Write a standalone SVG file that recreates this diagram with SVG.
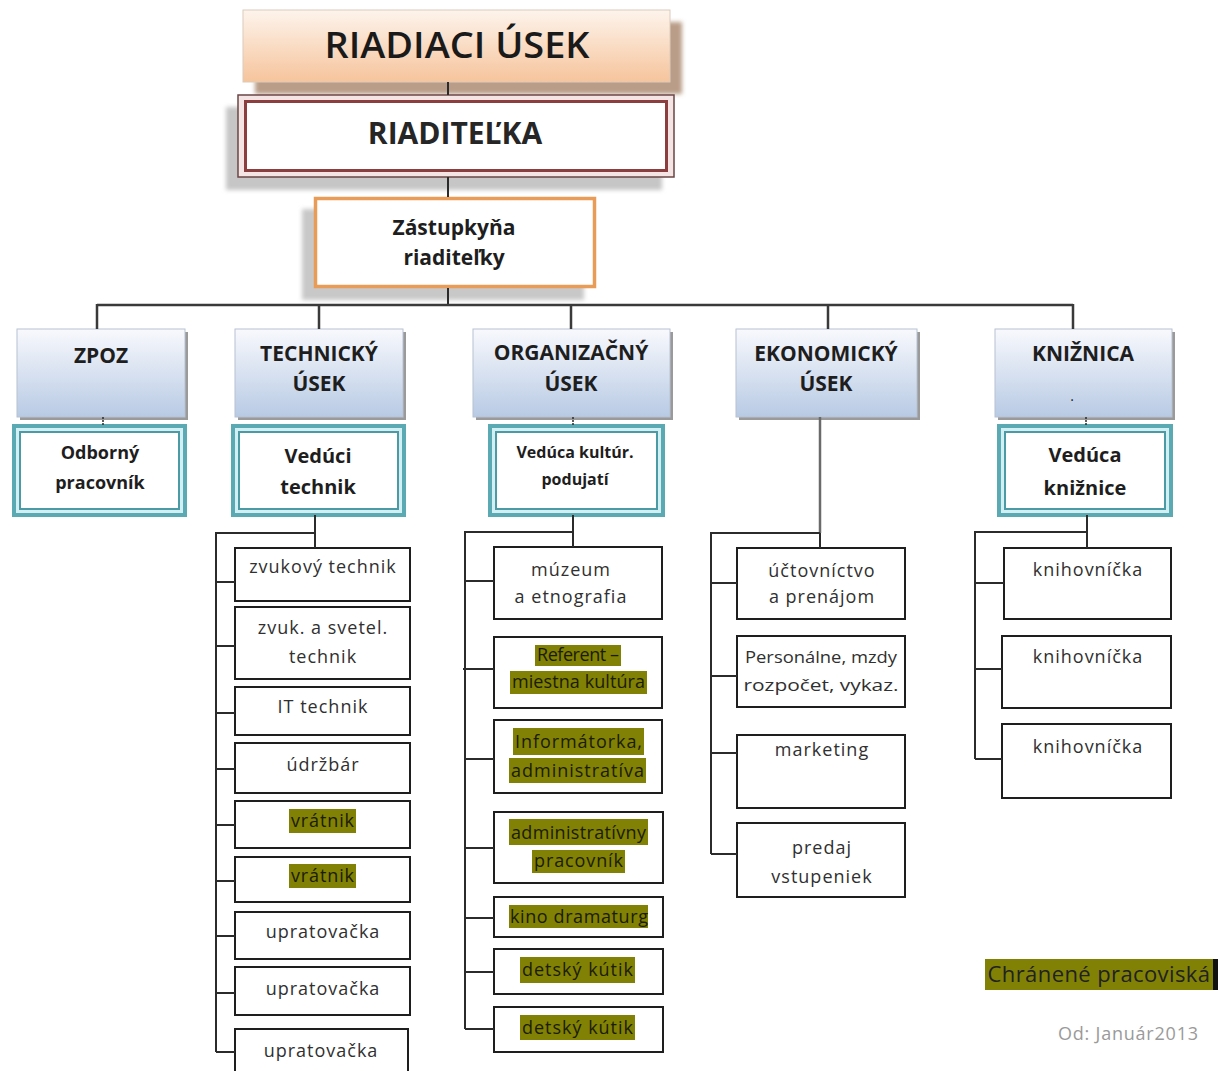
<svg xmlns="http://www.w3.org/2000/svg" width="1218" height="1071" viewBox="0 0 1218 1071">
<defs>
<linearGradient id="gPeach" x1="0" y1="0" x2="0" y2="1">
<stop offset="0" stop-color="#fdf4ec"/>
<stop offset="1" stop-color="#f6c49c"/>
</linearGradient>
<linearGradient id="gBlue" x1="0" y1="0" x2="0" y2="1">
<stop offset="0" stop-color="#f8f9fd"/>
<stop offset="1" stop-color="#b8cae4"/>
</linearGradient>
<filter id="blur" x="-10%" y="-10%" width="120%" height="120%">
<feGaussianBlur stdDeviation="2"/>
</filter>
</defs>
<style>
text{font-family:"Open Sans","Noto Sans","DejaVu Sans",sans-serif;text-anchor:middle;fill:#262626}
.title{font-size:36px;font-weight:600;fill:#1a1a1a}
.boss{font-size:30px;font-weight:700}
.dep{font-size:21px;font-weight:700;fill:#1e1e1e}
.sub{font-size:19px;font-weight:700;fill:#1e1e1e}
.leaf{font-size:18px;letter-spacing:1px;fill:#303030}
.hlt{font-size:18px;letter-spacing:0;fill:#1c1c00}
.hl{fill:#818106}
.leafbox{fill:#fff;stroke:#1e1e1e;stroke-width:2}
.depbox{fill:url(#gBlue);stroke:#b7c2d2;stroke-width:1}
.depsh{fill:#9a9a9a}
.tealout{fill:#d2f0f3;stroke:#5aa9b3;stroke-width:4}
.tealin{fill:#fff;stroke:#4b9aa5;stroke-width:2}
.conn{fill:none;stroke:#2b2b2b;stroke-width:2}
</style>

<!-- top -->
<g id="riadiaci-usek">
<rect x="255" y="22" width="427" height="72" fill="#b99d88" filter="url(#blur)"/>
<rect x="243" y="10" width="427" height="72" fill="url(#gPeach)" stroke="#dccbbb" stroke-width="1"/>
<text class="title" x="457" y="58" textLength="265" lengthAdjust="spacingAndGlyphs">RIADIACI ÚSEK</text>
</g>
<g id="riaditelka">
<rect x="226" y="107" width="436" height="83" fill="#c6c6c6" filter="url(#blur)"/>
<rect x="238" y="95" width="436" height="82" fill="#f4e4e4" stroke="#6b4545" stroke-width="1.5"/>
<rect x="245.5" y="101.5" width="421" height="69" fill="#fff" stroke="#8c3d3d" stroke-width="3"/>
<text class="boss" x="455" y="144">RIADITEĽKA</text>
</g>
<g id="zastupkyna">
<rect x="302" y="209" width="282" height="91" fill="#c8c8c8" filter="url(#blur)"/>
<rect x="315.5" y="198.5" width="279" height="88" fill="#fff" stroke="#e89c58" stroke-width="3.5"/>
<text class="sub" style="font-size:21px" x="454" y="235">Zástupkyňa</text>
<text class="sub" style="font-size:21px" x="454" y="265">riaditeľky</text>
</g>

<!-- departments -->
<g id="zpoz">
<rect class="depsh" x="20" y="332" width="168" height="88"/>
<rect class="depbox" x="17" y="329" width="168" height="88"/>
<text class="dep" x="101" y="363">ZPOZ</text>
</g>
<g id="technicky">
<rect class="depsh" x="238" y="332" width="168" height="88"/>
<rect class="depbox" x="235" y="329" width="168" height="88"/>
<text class="dep" x="319" y="361">TECHNICKÝ</text>
<text class="dep" x="319" y="391">ÚSEK</text>
</g>
<g id="organizacny">
<rect class="depsh" x="476" y="332" width="197" height="88"/>
<rect class="depbox" x="473" y="329" width="197" height="88"/>
<text class="dep" x="571" y="360">ORGANIZAČNÝ</text>
<text class="dep" x="571" y="391">ÚSEK</text>
</g>
<g id="ekonomicky">
<rect class="depsh" x="739" y="332" width="181" height="88"/>
<rect class="depbox" x="736" y="329" width="181" height="88"/>
<text class="dep" x="826" y="361">EKONOMICKÝ</text>
<text class="dep" x="826" y="391">ÚSEK</text>
</g>
<g id="kniznica">
<rect class="depsh" x="998" y="332" width="177" height="88"/>
<rect class="depbox" x="995" y="329" width="177" height="88"/>
<text class="dep" x="1083" y="361">KNIŽNICA</text>
<text class="dep" style="font-size:14px;font-weight:400" x="1072" y="401">.</text>
</g>

<!-- heads -->
<g id="odborny">
<rect class="tealout" x="14" y="426" width="171" height="89"/>
<rect class="tealin" x="20" y="432" width="159" height="77"/>
<text class="sub" style="font-size:18px" x="100" y="459">Odborný</text>
<text class="sub" style="font-size:18px" x="100" y="489">pracovník</text>
</g>
<g id="veduci-technik">
<rect class="tealout" x="233" y="426" width="171" height="89"/>
<rect class="tealin" x="239" y="432" width="159" height="77"/>
<text class="sub" style="font-size:20px" x="318" y="463">Vedúci</text>
<text class="sub" style="font-size:20px" x="318" y="494">technik</text>
</g>
<g id="veduca-kultur">
<rect class="tealout" x="490" y="426" width="173" height="89"/>
<rect class="tealin" x="496" y="432" width="161" height="77"/>
<text class="sub" style="font-size:16px" x="575" y="458">Vedúca kultúr.</text>
<text class="sub" style="font-size:16px" x="575" y="485">podujatí</text>
</g>
<g id="veduca-kniznice">
<rect class="tealout" x="999" y="426" width="172" height="89"/>
<rect class="tealin" x="1005" y="432" width="160" height="77"/>
<text class="sub" style="font-size:20px" x="1085" y="462">Vedúca</text>
<text class="sub" style="font-size:20px" x="1085" y="495">knižnice</text>
</g>

<!-- technical column -->
<g id="t1"><rect class="leafbox" x="235" y="548" width="175" height="53"/><text class="leaf" x="323" y="573">zvukový technik</text></g>
<g id="t2"><rect class="leafbox" x="235" y="607" width="175" height="72"/><text class="leaf" x="323" y="634">zvuk. a svetel.</text><text class="leaf" x="323" y="663">technik</text></g>
<g id="t3"><rect class="leafbox" x="235" y="687" width="175" height="48"/><text class="leaf" x="323" y="713">IT technik</text></g>
<g id="t4"><rect class="leafbox" x="235" y="743" width="175" height="50"/><text class="leaf" x="323" y="771">údržbár</text></g>
<g id="t5"><rect class="leafbox" x="235" y="801" width="175" height="47"/><rect class="hl" x="289" y="809" width="67" height="24"/><text class="hlt" x="322.5" y="827" textLength="63">vrátnik</text></g>
<g id="t6"><rect class="leafbox" x="235" y="857" width="175" height="45"/><rect class="hl" x="289" y="864" width="67" height="24"/><text class="hlt" x="322.5" y="882" textLength="63">vrátnik</text></g>
<g id="t7"><rect class="leafbox" x="235" y="912" width="175" height="47"/><text class="leaf" x="323" y="938">upratovačka</text></g>
<g id="t8"><rect class="leafbox" x="235" y="967" width="175" height="48"/><text class="leaf" x="323" y="995">upratovačka</text></g>
<g id="t9"><rect class="leafbox" x="235" y="1029" width="173" height="52"/><text class="leaf" x="321" y="1057">upratovačka</text></g>

<!-- organisational column -->
<g id="o1"><rect class="leafbox" x="494" y="547" width="168" height="72"/><text class="leaf" x="571" y="576">múzeum</text><text class="leaf" x="571" y="603">a etnografia</text></g>
<g id="o2"><rect class="leafbox" x="494" y="637" width="168" height="71"/><rect class="hl" x="535" y="645" width="86" height="21"/><rect class="hl" x="510" y="671" width="137" height="23"/><text class="hlt" x="578" y="661" textLength="82">Referent –</text><text class="hlt" x="578.5" y="688" textLength="133">miestna kultúra</text></g>
<g id="o3"><rect class="leafbox" x="494" y="720" width="168" height="73"/><rect class="hl" x="513" y="728" width="131" height="27"/><rect class="hl" x="509" y="758" width="137" height="25"/><text class="hlt" x="578.5" y="748" textLength="127">Informátorka,</text><text class="hlt" x="577.5" y="777" textLength="133">administratíva</text></g>
<g id="o4"><rect class="leafbox" x="494" y="812" width="169" height="71"/><rect class="hl" x="509" y="819" width="139" height="26"/><rect class="hl" x="532" y="850" width="93" height="23"/><text class="hlt" x="578.5" y="839" textLength="135">administratívny</text><text class="hlt" x="578.5" y="867" textLength="89">pracovník</text></g>
<g id="o5"><rect class="leafbox" x="494" y="897" width="169" height="40"/><rect class="hl" x="509" y="905" width="139" height="23"/><text class="hlt" x="579" y="923" textLength="138">kino dramaturg</text></g>
<g id="o6"><rect class="leafbox" x="494" y="949" width="169" height="45"/><rect class="hl" x="520" y="957" width="115" height="26"/><text class="hlt" x="577.5" y="976" textLength="111">detský kútik</text></g>
<g id="o7"><rect class="leafbox" x="494" y="1007" width="169" height="45"/><rect class="hl" x="520" y="1015" width="115" height="25"/><text class="hlt" x="577.5" y="1034" textLength="111">detský kútik</text></g>

<!-- economic column -->
<g id="e1"><rect class="leafbox" x="737" y="548" width="168" height="71"/><text class="leaf" x="822" y="577">účtovníctvo</text><text class="leaf" x="822" y="603">a prenájom</text></g>
<g id="e2"><rect class="leafbox" x="737" y="636" width="168" height="71"/><text class="leaf" style="font-size:16px;letter-spacing:0" x="821" y="663" textLength="152" lengthAdjust="spacingAndGlyphs">Personálne, mzdy</text><text class="leaf" style="font-size:16px;letter-spacing:0" x="821" y="691" textLength="155" lengthAdjust="spacingAndGlyphs">rozpočet, vykaz.</text></g>
<g id="e3"><rect class="leafbox" x="737" y="735" width="168" height="73"/><text class="leaf" x="822" y="756">marketing</text></g>
<g id="e4"><rect class="leafbox" x="737" y="823" width="168" height="74"/><text class="leaf" x="822" y="854">predaj</text><text class="leaf" x="822" y="883">vstupeniek</text></g>

<!-- library column -->
<g id="k1"><rect class="leafbox" x="1004" y="548" width="167" height="71"/><text class="leaf" x="1088" y="576">knihovníčka</text></g>
<g id="k2"><rect class="leafbox" x="1002" y="636" width="169" height="72"/><text class="leaf" x="1088" y="663">knihovníčka</text></g>
<g id="k3"><rect class="leafbox" x="1002" y="724" width="169" height="74"/><text class="leaf" x="1088" y="753">knihovníčka</text></g>

<!-- legend -->
<g id="legend">
<rect class="hl" x="985" y="959" width="229" height="31"/>
<rect x="1213" y="959" width="5" height="31" fill="#111"/>
<text x="1099" y="982" style="font-size:22px;letter-spacing:0.4px;fill:#222">Chránené pracoviská</text>
<text x="1128" y="1040" style="font-size:18px;fill:#9a9a9a" textLength="140">Od: Január2013</text>
</g>

<!-- connectors -->
<g id="connectors">
<path class="conn" d="M448 82V95M448 177V197M448 288V305"/>
<path class="conn" d="M97 305H1073M97 304V329M319 304V329M571 304V329M828 304V329M1073 304V329" style="stroke:#3a3a3a;stroke-width:2.5"/>
<path class="conn" d="M103 417V426M573 417V426M1086 417V426" style="stroke-width:1.5;stroke-dasharray:2 1"/>
<path class="conn" d="M315 515V548M315 533H216V1052M216 582H235M216 646H235M216 713H235M216 769H235M216 825H235M216 881H235M216 936H235M216 993H235M216 1052H235"/>
<path class="conn" d="M573 515V547M573 532H465V1029M463 669H494M465 581H494M465 759H494M465 848H494M465 918H494M465 972H494M465 1029H494"/>
<path class="conn" d="M820 417V533" style="stroke:#6a6a6a;stroke-width:2.5"/>
<path class="conn" d="M820 533V548M820 533H711V854M711 583H737M711 676H737M711 753H737M711 854H737"/>
<path class="conn" d="M1087 515V548M1087 532H975V759M975 583H1004M975 669H1002M975 759H1002"/>
</g>
</svg>
